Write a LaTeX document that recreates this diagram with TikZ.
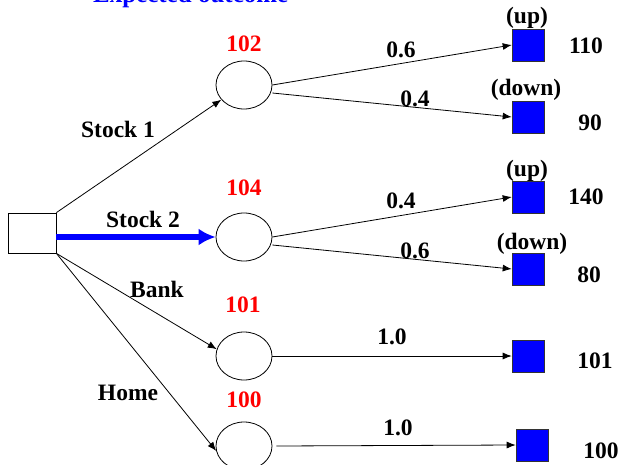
\documentclass[tikz,border=0pt]{standalone}
\usepackage{fontspec}
\setmainfont{Liberation Serif}
\usetikzlibrary{shapes.geometric,arrows.meta}
\begin{document}
\begin{tikzpicture}[x=1pt,y=-1pt,
  every node/.style={font=\fontsize{23.5}{28}\selectfont\bfseries, inner sep=0pt},
  dec/.style={draw, minimum width=48pt, minimum height=40pt, line width=0.8pt},
  chance/.style={draw, ellipse, minimum width=56pt, minimum height=48pt, line width=0.8pt},
  term/.style={draw=black!80, fill=blue, minimum size=32pt, line width=0.6pt},
  arr/.style={line width=0.8pt, -{Latex[length=9pt,width=7pt]}},
  barr/.style={draw=blue, line width=6.5pt, -{Latex[length=17pt,width=17pt]}},
  val/.style={text=red},
]
\useasboundingbox (0,0) rectangle (620,465);
\clip (0,0) rectangle (620,465);

\node[anchor=base west, text=blue, font=\fontsize{25}{30}\selectfont\bfseries] (title) at (93,2.5) {Expected outcome};

\node[dec] (d) at (32,233) {};
\node[chance] (c1) at (244,85) {};
\node[chance] (c2) at (244,237) {};
\node[chance] (c3) at (244,356) {};
\node[chance] (c4) at (244,446) {};

\node[term] (t1) at (528,45) {};
\node[term] (t2) at (528,117) {};
\node[term] (t3) at (528,197) {};
\node[term] (t4) at (528,269) {};
\node[term] (t5) at (528,356) {};
\node[term] (t6) at (532,445) {};

% decision branches
\draw[arr] (d.north east) -- (c1.213);
\draw[barr] (d.east |- c2.west) -- (c2.west);
\draw[arr] (d.south east) -- (c3.166);
\draw[arr] (d.south east) -- (c4.190);

% outcome branches
\draw[arr] (c1.east) -- (t1.west);
\draw[arr] ([yshift=-8pt]c1.east) -- (t2.west);
\draw[arr] (c2.east) -- (t3.west);
\draw[arr] ([yshift=-8pt]c2.east) -- (t4.west);
\draw[arr] (c3.east) -- (t5.west);
\draw[arr] ([xshift=4pt]c4.east) -- (t6.west);

% branch labels
\node (l1) at (118,129) {Stock 1};
\node (l2) at (143,219) {Stock 2};
\node (l3) at (157,289) {Bank};
\node (l4) at (128,393) {Home};

% expected values
\node[val] (v1) at (244,44) {102};
\node[val] (v2) at (244,188) {104};
\node[val] (v3) at (243,305) {101};
\node[val] (v4) at (244,400) {100};

% probabilities
\node (p1) at (401,50) {0.6};
\node (p2) at (415,99) {0.4};
\node (p3) at (401,201) {0.4};
\node (p4) at (415,251) {0.6};
\node (p5) at (392,337) {1.0};
\node (p6) at (398,428) {1.0};

% state labels
\node (s1) at (527,18) {(up)};
\node (s2) at (526,90) {(down)};
\node (s3) at (527,171) {(up)};
\node (s4) at (532,244) {(down)};

% payoffs
\node (o1) at (586,46) {110};
\node (o2) at (590,123) {90};
\node (o3) at (586,197) {140};
\node (o4) at (589,275) {80};
\node (o5) at (595,361) {101};
\node (o6) at (601,451) {100};
\end{tikzpicture}
\end{document}
